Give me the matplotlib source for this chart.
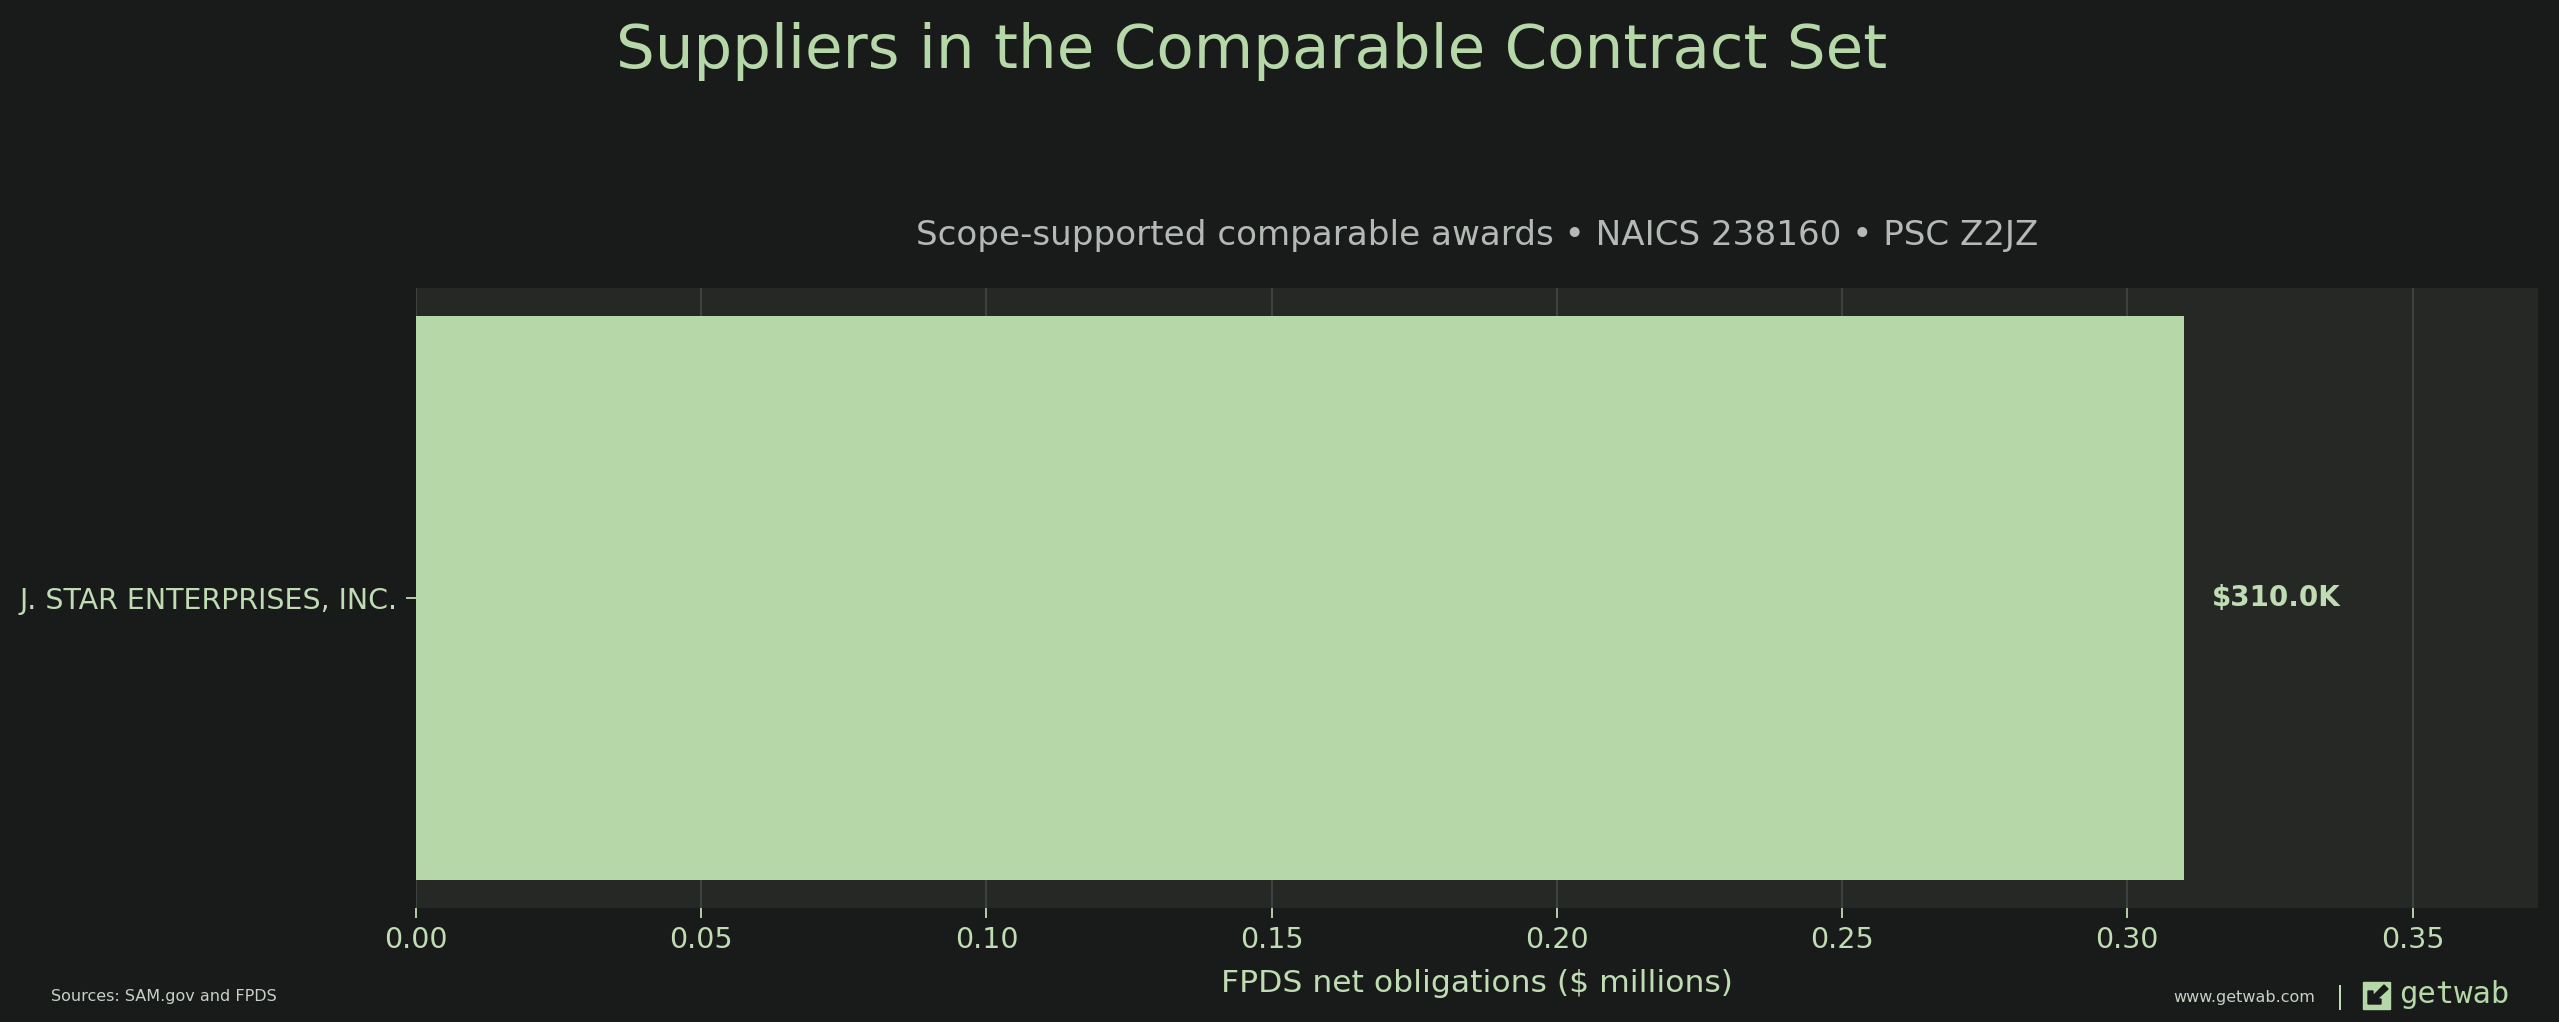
import numpy as np
import matplotlib.pyplot as plt
from matplotlib.patches import Rectangle, Polygon

# data
suppliers = ["J. STAR ENTERPRISES, INC."]
obligations = [0.310]          # $ millions
value_labels = ["$310.0K"]

title = "Suppliers in the Comparable Contract Set"
subtitle = "Scope-supported comparable awards \u2022 NAICS 238160 \u2022 PSC Z2JZ"
xlabel = "FPDS net obligations ($ millions)"
source = "Sources: SAM.gov and FPDS"
site = "www.getwab.com"

bg = "#191b1a"
panel = "#262826"
green = "#b6d8a8"
text_green = "#bfdcb3"
grey = "#b5b9b5"
grid = "#3e423e"

W, H = 2559, 1022
fig = plt.figure(figsize=(W / 100, H / 100), dpi=100, facecolor=bg)
ax = fig.add_axes([416 / W, 1 - 908 / H, (2538 - 416) / W, (908 - 288) / H])
ax.set_facecolor(panel)

y = np.arange(len(suppliers))
ax.barh(y, obligations, height=0.8, color=green, zorder=3)
ax.set_yticks(y)
ax.set_yticklabels(suppliers)
ax.set_xlim(0, max(obligations) * 1.2)
ax.set_xticks(np.arange(0, 0.36, 0.05))
ax.set_xticklabels(["%.2f" % v for v in np.arange(0, 0.36, 0.05)])

ax.grid(axis="x", color=grid, lw=1.5, zorder=0)
ax.grid(axis="y", visible=False)
for s in ax.spines.values():
    s.set_visible(False)
ax.tick_params(axis="both", colors=text_green, labelsize=20.5, length=7, width=1.3, pad=6)

for yi, v, lab in zip(y, obligations, value_labels):
    ax.annotate(lab, (v, yi), xytext=(20, 0), textcoords="offset points",
                va="center", ha="left", color=text_green, fontsize=20, fontweight="bold")

fig.text(1252 / W, 1 - 68 / H, title, ha="center", va="baseline", color=green, fontsize=44)
fig.text(1477 / W, 1 - 245 / H, subtitle, ha="center", va="baseline", color=grey, fontsize=24.6)
fig.text(1477 / W, 1 - 992 / H, xlabel, ha="center", va="baseline", color=text_green, fontsize=22.6)
fig.text(51 / W, 1 - 1001 / H, source, ha="left", va="baseline", color="#c8d0c4", fontsize=11.5)
fig.text(2315 / W, 1 - 1002 / H, site, ha="right", va="baseline", color="#c8d0c4", fontsize=11.5)
fig.text(2340 / W, 1 - 1004 / H, "|", ha="center", va="baseline", color=text_green, fontsize=17)

# little getwab logo
x0, y0, s = 2363 / W, 1 - 1009 / H, 27
fig.patches.append(Rectangle((x0, y0), s / W, s / H, transform=fig.transFigure,
                             color=green, zorder=5))
arrow = [(2368, 1004), (2368, 991), (2373, 991), (2373, 996), (2384, 985), (2388, 989),
         (2377, 999), (2381, 999), (2381, 1004)]
fig.patches.append(Polygon([(px / W, 1 - py / H) for px, py in arrow], closed=True,
                           transform=fig.transFigure, color=bg, zorder=6))
fig.text(2399 / W, 1 - 1003 / H, "getwab", ha="left", va="baseline", color=green,
         fontsize=22, family="DejaVu Sans Mono")

fig.savefig("out.png", dpi=100, facecolor=bg)
